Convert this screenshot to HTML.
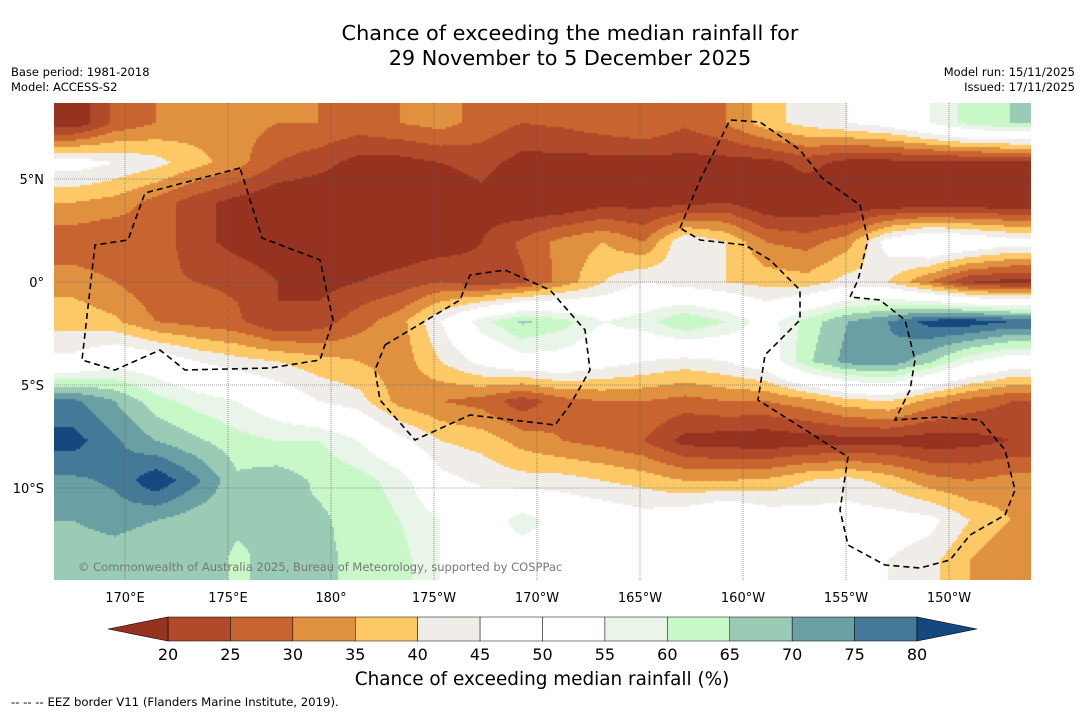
<!DOCTYPE html>
<html><head><meta charset="utf-8">
<style>
body{margin:0;width:1085px;height:713px;background:#fff;font-family:"DejaVu Sans",sans-serif;position:relative;overflow:hidden}
.t{position:absolute;color:#000;white-space:nowrap}
</style></head><body>
<div class="t" style="left:0;width:1140px;top:21px;text-align:center;font-size:20.8px;line-height:25px">Chance of exceeding the median rainfall for<br>29 November to 5 December 2025</div>
<div class="t" style="left:11px;top:65px;font-size:11.5px;line-height:15px">Base period: 1981-2018<br>Model: ACCESS-S2</div>
<div class="t" style="right:10px;top:65px;font-size:11.5px;line-height:15px;text-align:right">Model run: 15/11/2025<br>Issued: 17/11/2025</div>
<canvas id="map" width="977" height="477" style="position:absolute;left:54px;top:103px"></canvas>
<svg id="ov" width="1085" height="713" style="position:absolute;left:0;top:0">
<g id="grid"></g>
<g fill="none" stroke="#000" stroke-width="1.6" stroke-dasharray="6,4">
<path d="M240,168 L145,193 L128,240 L95,245 L82,360 L115,370 L160,350 L185,370 L270,368 L320,360 L333,320 L320,260 L262,238 Z"/>
<path d="M385,345 L460,300 L470,275 L505,270 L550,290 L585,330 L590,370 L570,405 L555,425 L470,415 L415,440 L380,400 L375,370 Z"/>
<path d="M680,228 L700,180 L730,120 L760,122 L800,150 L822,178 L860,205 L868,240 L858,280 L850,297 L880,300 L905,320 L915,360 L910,390 L895,420 L940,417 L980,420 L1005,450 L1015,490 L1005,515 L970,535 L950,560 L920,568 L885,565 L848,545 L840,510 L848,457 L758,400 L765,355 L800,320 L800,290 L770,260 L745,245 L700,240 Z"/>
</g>
<text x="78" y="571" font-size="11.5" fill="#777" font-family="DejaVu Sans">© Commonwealth of Australia 2025, Bureau of Meteorology, supported by COSPPac</text>
<g id="axes" font-family="DejaVu Sans" font-size="13"></g>
<g id="cbar"></g>
<text x="542" y="685" font-size="18.4" text-anchor="middle" font-family="DejaVu Sans">Chance of exceeding median rainfall (%)</text>
<text x="11" y="706" font-size="11.7" font-family="DejaVu Sans">--  --  -- EEZ border V11 (Flanders Marine Institute, 2019).</text>
</svg>
<script>
// grid values (% chance), rows north->south, columns west->east (~2° cells)
const row0=[16,26,30,32,32,30,30,28,30,32,28,25,26,28,30,26,30,38,42,45,48,55,62,65];
const row1=[48,45,42,37,32,25,22,18,18,20,22,18,18,18,18,18,18,18,22,18,18,18,18,18];
const row2=[35,33,28,22,18,15,15,15,15,15,18,15,15,18,18,18,20,15,15,15,15,15,15,15];
const row3=[26,25,28,22,18,16,15,16,16,17,20,26,32,35,30,45,40,30,28,33,48,55,52,48];
const row4=[33,30,26,25,24,20,18,20,22,25,22,24,32,40,45,42,40,38,37,42,40,30,20,18];
const row5=[38,36,30,28,26,20,22,28,33,45,58,66,62,55,58,65,60,52,62,70,75,82,83,80];
const row6=[47,52,50,45,42,40,37,35,32,40,47,52,52,48,45,43,45,50,64,72,74,66,56,50];
const row7=[76,70,62,58,55,50,45,42,33,30,28,22,28,30,30,28,30,30,33,38,40,33,28,25];
const row8=[82,76,70,66,62,60,60,55,47,40,38,33,30,28,25,18,17,16,17,18,18,17,18,20];
const row9=[74,76,84,76,66,68,64,62,58,47,44,42,42,40,38,35,35,36,40,42,38,32,30,32];
const row10=[70,72,70,67,66,65,66,63,60,55,50,58,52,50,48,50,55,50,48,48,48,47,40,35];
const row11=[67,67,65,68,64,67,66,64,62,55,52,50,52,48,45,45,50,55,52,48,45,42,35,30];
const grid=[row0,row1,row2,row3,row4,row5,row6,row7,row8,row9,row10,row11];
const levels=[20,25,30,35,40,45,50,55,60,65,70,75,80];
const colors=["#953320","#b04a2a","#c8642f","#e0913f","#fdc866","#f0ede8","#ffffff","#ffffff","#e8f5e8","#c8f8c8","#9acbb5","#6a9fa4","#447a98","#15487f"];
const lonTicks=["170°E","175°E","180°","175°W","170°W","165°W","160°W","155°W","150°W"];
const latTicks=["5°N","0°","5°S","10°S"];
const cbTicks=[20,25,30,35,40,45,50,55,60,65,70,75,80];

const W=977,H=477,nc=24,nr=12,cw=W/nc,ch=H/nr;
function val(x,y){
 let fx=(x-cw/2)/cw, fy=(y-ch/2)/ch;
 fx=Math.max(0,Math.min(nc-1,fx)); fy=Math.max(0,Math.min(nr-1,fy));
 const i=Math.min(nc-2,Math.floor(fx)), j=Math.min(nr-2,Math.floor(fy));
 const a=fx-i,b=fy-j;
 return grid[j][i]*(1-a)*(1-b)+grid[j][i+1]*a*(1-b)+grid[j+1][i]*(1-a)*b+grid[j+1][i+1]*a*b;
}
function col(v){let k=0;while(k<levels.length&&v>=levels[k])k++;return colors[k];}
const cv=document.getElementById('map'),ctx=cv.getContext('2d');
for(let y=0;y<H;y+=2)for(let x=0;x<W;x+=2){ctx.fillStyle=col(val(x+1,y+1));ctx.fillRect(x,y,2,2);}
const NS='http://www.w3.org/2000/svg';
function mk(t,at,p){const e=document.createElementNS(NS,t);for(const k in at)e.setAttribute(k,at[k]);p.appendChild(e);return e;}
const gg=document.getElementById('grid'),ax=document.getElementById('axes');
const xS=i=>125+i*103, yS=i=>179+i*103;
lonTicks.forEach((t,i)=>{
 const l=mk('line',{x1:xS(i),x2:xS(i),y1:103,y2:580,stroke:'#555','stroke-width':0.6,'stroke-dasharray':'1,1'},gg);
 
 
 const e=mk('text',{x:xS(i),y:602,'text-anchor':'middle'},ax);e.textContent=t;
 
 
});
latTicks.forEach((t,i)=>{
 const l=mk('line',{x1:54,x2:1031,y1:yS(i),y2:yS(i),stroke:'#555','stroke-width':0.6,'stroke-dasharray':'1,1'},gg);
 
 
 const e=mk('text',{x:44,y:yS(i)+5,'text-anchor':'end'},ax);e.textContent=t;
 
 
});
const cb=document.getElementById('cbar'),x0=168,x1=917,bw=(x1-x0)/12;
for(let k=0;k<12;k++){
 const r=mk('rect',{x:x0+k*bw,y:617,width:bw,height:24,fill:colors[k+1],stroke:'#000','stroke-width':0.5},cb);
 
 
}
const lt=mk('polygon',{points:`${x0},617 ${x0},641 108,629`,fill:colors[0],stroke:'#000','stroke-width':0.6},cb);


const rt=mk('polygon',{points:`${x1},617 ${x1},641 977,629`,fill:colors[13],stroke:'#000','stroke-width':0.6},cb);


cbTicks.forEach((v,k)=>{
 const e=mk('text',{x:x0+k*bw,y:660,'text-anchor':'middle','font-size':16,'font-family':'DejaVu Sans'},cb);e.textContent=v;
 
 
});
</script>
</body></html>
